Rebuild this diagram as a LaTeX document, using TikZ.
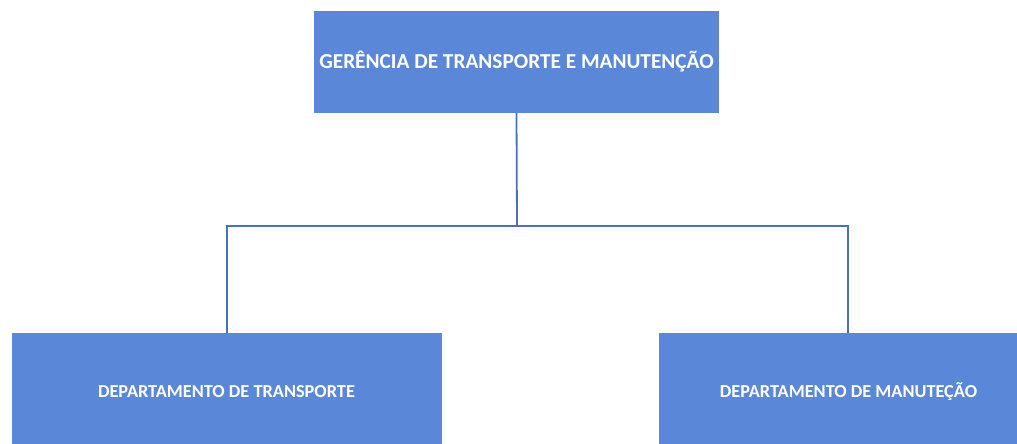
\documentclass[tikz,border=0pt]{standalone}
\usepackage{fontspec}
\setmainfont{Carlito}
\definecolor{boxfill}{HTML}{5B87D8}
\definecolor{linecol}{HTML}{4A70B5}
\begin{document}
\begin{tikzpicture}[x=1pt,y=-1pt,
  orgbox/.style={draw=none,fill=boxfill,text=white,font=\bfseries,inner sep=0pt,anchor=center},
  conn/.style={draw=linecol,line width=1.8pt}]
\useasboundingbox (0,0) rectangle (1017,444);
\clip (0,0) rectangle (1017,444);
\node[orgbox,minimum width=405pt,minimum height=101pt,font=\bfseries\fontsize{21.3}{24}\selectfont] (top) at (516.5,62) {GERÊNCIA DE TRANSPORTE E MANUTENÇÃO};
\node[orgbox,minimum width=430pt,minimum height=118pt,font=\bfseries\fontsize{18.3}{21}\selectfont] (left) at (226.5,392) {DEPARTAMENTO DE TRANSPORTE};
\node[orgbox,minimum width=379pt,minimum height=118pt,font=\bfseries\fontsize{18.3}{21}\selectfont] (right) at (848.5,392) {DEPARTAMENTO DE MANUTEÇÃO};
\coordinate (mid) at (517,226);
\draw[conn] (top.south) -- (mid);
\draw[conn] (left.north -| 227,0) |- (mid) -| (right.north -| 848,0);
\end{tikzpicture}
\end{document}
